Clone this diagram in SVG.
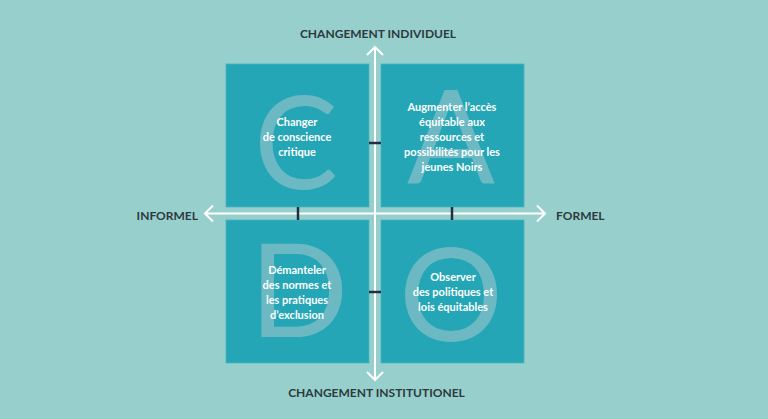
<svg xmlns="http://www.w3.org/2000/svg" width="768" height="419" viewBox="0 0 768 419">
<style>
.box{fill:#24a6b6;stroke:#4db3be;stroke-width:0.8}
.big{font-family:Lato,"Open Sans",sans-serif;font-size:130px;fill:#6cb9c4;text-anchor:middle}
.lbl{font-family:Lato,"Open Sans",sans-serif;font-size:11px;font-weight:bold;fill:#ffffff;text-anchor:middle}
.axis{font-family:Lato,"Open Sans",sans-serif;font-size:12px;font-weight:bold;fill:#2d3a3e}
.ax{stroke:#ffffff;stroke-width:2;fill:none}
.tick{stroke:#262c45;stroke-width:2.5}
</style>
<rect width="768" height="419" fill="#97cfcc"/>
<g id="node-c">
<rect class="box" x="226" y="64" width="143" height="143"/>
<text class="big" x="296" y="189" textLength="84" lengthAdjust="spacingAndGlyphs">C</text>
<text class="lbl" x="297" y="125.5">Changer</text>
<text class="lbl" x="297" y="140.5">de conscience</text>
<text class="lbl" x="297" y="155.5">critique</text>
</g>
<g id="node-a">
<rect class="box" x="381" y="64" width="143" height="143"/>
<text class="big" x="451" y="184">A</text>
<text class="lbl" x="452" y="110.5">Augmenter l’accès</text>
<text class="lbl" x="452" y="125.5">équitable aux</text>
<text class="lbl" x="452" y="140.5">ressources et</text>
<text class="lbl" x="452" y="155.5">possibilités pour les</text>
<text class="lbl" x="452" y="170.5">jeunes Noirs</text>
</g>
<g id="node-d">
<rect class="box" x="226" y="220" width="143" height="143"/>
<text class="big" x="299" y="337">D</text>
<text class="lbl" x="297" y="274">Démanteler</text>
<text class="lbl" x="297" y="289">des normes et</text>
<text class="lbl" x="297" y="304">les pratiques</text>
<text class="lbl" x="297" y="318.5">d’exclusion</text>
</g>
<g id="node-o">
<rect class="box" x="381" y="220" width="143" height="143"/>
<text class="big" x="451" y="341">O</text>
<text class="lbl" x="453" y="280.5">Observer</text>
<text class="lbl" x="453" y="295.5">des politiques et</text>
<text class="lbl" x="453" y="310.5">lois équitables</text>
</g>
<g id="connectors">
<line class="ax" x1="375" y1="47" x2="375" y2="380"/>
<polyline class="ax" points="367,55 375,47 383,55"/>
<polyline class="ax" points="367,372 375,380 383,372"/>
<line class="ax" x1="205" y1="213.5" x2="545" y2="213.5"/>
<polyline class="ax" points="213,205.5 205,213.5 213,221.5"/>
<polyline class="ax" points="537,205.5 545,213.5 537,221.5"/>
<line class="tick" x1="298" y1="207" x2="298" y2="220"/>
<line class="tick" x1="452" y1="207" x2="452" y2="220"/>
<line class="tick" x1="369" y1="143" x2="381" y2="143"/>
<line class="tick" x1="369" y1="292" x2="381" y2="292"/>
</g>
<g id="axis-labels">
<text class="axis" x="378" y="38" text-anchor="middle">CHANGEMENT INDIVIDUEL</text>
<text class="axis" x="376.5" y="397" text-anchor="middle">CHANGEMENT INSTITUTIONEL</text>
<text class="axis" x="198" y="220" text-anchor="end">INFORMEL</text>
<text class="axis" x="556" y="220">FORMEL</text>
</g>
</svg>
